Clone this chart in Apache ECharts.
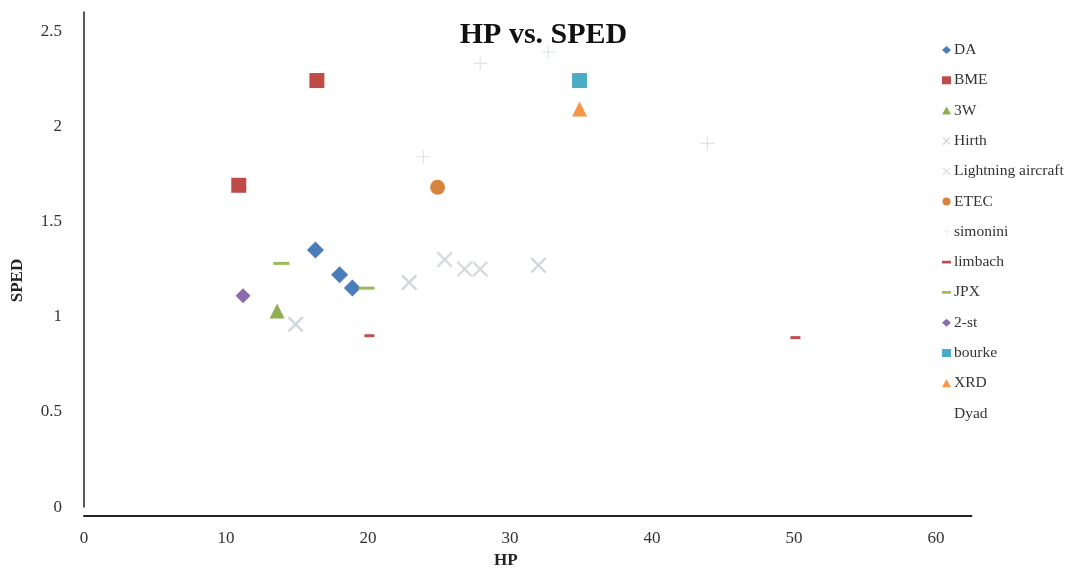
<!DOCTYPE html>
<html><head><meta charset="utf-8">
<script src="https://cdn.jsdelivr.net/npm/echarts@6/dist/echarts.min.js"></script>
<style>html,body{margin:0;padding:0;background:#fff}#c{width:1087px;height:574px}</style>
</head><body><div id="c"></div>
<script>
const seriesNames = ['DA','BME','3W','Hirth','Lightning aircraft','ETEC','simonini','limbach','JPX','2-st','bourke','XRD','Dyad'];
const DA = [[16.3,1.35],[18.0,1.22],[18.9,1.15]];
const BME = [[10.9,1.69],[16.4,2.24]];
const W3 = [[13.6,1.03]];
const Hirth = [[14.9,0.96],[22.9,1.18],[32.0,1.27]];
const Lightning = [[25.4,1.30],[26.8,1.25],[27.9,1.25]];
const ETEC = [[24.9,1.68]];
const simonini = [[23.9,1.84],[27.9,2.33],[32.7,2.39],[43.9,1.91]];
const limbach = [[20.1,0.90],[50.1,0.89]];
const JPX = [[13.9,1.28],[19.9,1.15]];
const st2 = [[11.2,1.11]];
const bourke = [[34.9,2.24]];
const XRD = [[34.9,2.09]];
const Dyad = [];
const xTicks = {min:0, max:62.5, interval:10};
const yTicks = {min:0, max:2.6, interval:0.5};

const X = 'path://M0,1L1,0L5,4L9,0L10,1L6,5L10,9L9,10L5,6L1,10L0,9L4,5Z';
const PLUS = 'path://M4.6,0H5.4V4.6H10V5.4H5.4V10H4.6V5.4H0V4.6H4.6Z';
const DASH = 'path://M0,0H10V3H0Z';
const serif = 'Liberation Serif';

const defs = [
  {name:'DA', data:DA, symbol:'diamond', size:[17,17], color:'#4a7ebb'},
  {name:'BME', data:BME, symbol:'rect', size:15, color:'#be4b48'},
  {name:'3W', data:W3, symbol:'triangle', size:15, color:'#8fb050'},
  {name:'Hirth', data:Hirth, symbol:X, size:16, color:'#cdd6da'},
  {name:'Lightning aircraft', data:Lightning, symbol:X, size:16, color:'#d6dadd'},
  {name:'ETEC', data:ETEC, symbol:'circle', size:15, color:'#d9843e'},
  {name:'simonini', data:simonini, symbol:PLUS, size:14, color:'#dde3ea'},
  {name:'limbach', data:limbach, symbol:DASH, size:[10,3], color:'#c0504d'},
  {name:'JPX', data:JPX, symbol:DASH, size:[16,3], color:'#9bbb59'},
  {name:'2-st', data:st2, symbol:'diamond', size:15, color:'#8a6bb0'},
  {name:'bourke', data:bourke, symbol:'rect', size:15, color:'#4bacc6'},
  {name:'XRD', data:XRD, symbol:'triangle', size:15, color:'#f79646'},
  {name:'Dyad', data:Dyad, symbol:'none', size:8, color:'#f4f4f4'}
];

const chart = echarts.init(document.getElementById('c'), null, {renderer:'canvas'});
chart.setOption({
  animation:false,
  backgroundColor:'#fff',
  title:{text:'HP vs. SPED', left:'center', top:15, textStyle:{fontFamily:serif, fontWeight:'bold', fontSize:30, color:'#111'}},
  legend:{
    orient:'vertical', left:937, top:37, itemWidth:9, itemHeight:8, itemGap:14.3,
    textStyle:{fontFamily:serif, fontSize:15.5, color:'#333', lineHeight:16, padding:[0,0,0,-2]},
    data: defs.map(d=>({name:d.name, icon: d.symbol==='none' ? 'none' : d.symbol}))
  },
  grid:{left:84, right:115.5, top:12, bottom:55},
  xAxis:{type:'value', min:xTicks.min, max:xTicks.max, interval:xTicks.interval, offset:9,
    splitLine:{show:false}, axisTick:{show:false},
    axisLine:{show:true, onZero:false, lineStyle:{color:'#222', width:2}},
    axisLabel:{margin:14, fontFamily:serif, fontSize:17, color:'#333', showMaxLabel:false},
    name:'HP', nameLocation:'middle', nameGap:23,
    nameTextStyle:{fontFamily:serif, fontWeight:'bold', fontSize:17, color:'#222', padding:[0,44,0,0]}
  },
  yAxis:{type:'value', min:yTicks.min, max:yTicks.max, interval:yTicks.interval,
    splitLine:{show:false}, axisTick:{show:false},
    axisLine:{show:true, lineStyle:{color:'#222', width:1.5}},
    axisLabel:{margin:22, fontFamily:serif, fontSize:17, color:'#333', showMaxLabel:false},
    name:'SPED', nameLocation:'middle', nameGap:58,
    nameTextStyle:{fontFamily:serif, fontWeight:'bold', fontSize:17, color:'#222', padding:[0,42,0,0]}
  },
  series: defs.map(d=>({
    name:d.name, type:'scatter', data:d.data, symbol:d.symbol, symbolSize:d.size,
    itemStyle:{color:d.color, opacity:1}
  }))
});
</script></body></html>
